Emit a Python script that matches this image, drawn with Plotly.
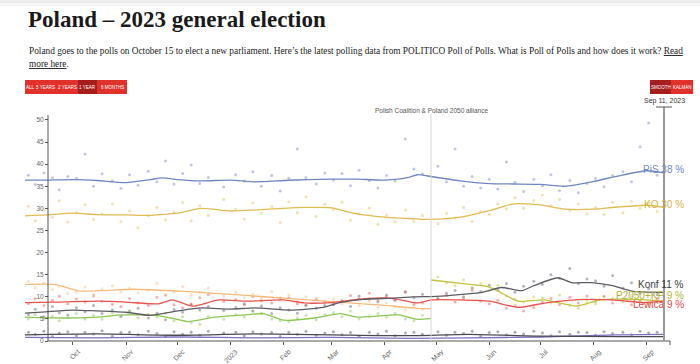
import plotly.graph_objects as go

# ---------------- data ----------------
poll_dates = [
    "2022-09-05", "2022-09-09", "2022-09-14", "2022-09-19", "2022-09-23", "2022-09-28",
    "2022-10-03", "2022-10-08", "2022-10-13", "2022-10-18", "2022-10-24", "2022-10-29",
    "2022-11-03", "2022-11-08", "2022-11-14", "2022-11-19", "2022-11-24", "2022-11-29",
    "2022-12-04", "2022-12-09", "2022-12-14", "2022-12-19", "2022-12-28",
    "2023-01-04", "2023-01-09", "2023-01-14", "2023-01-19", "2023-01-25", "2023-01-30",
    "2023-02-04", "2023-02-09", "2023-02-14", "2023-02-20", "2023-02-25",
    "2023-03-02", "2023-03-07", "2023-03-12", "2023-03-17", "2023-03-23", "2023-03-28",
    "2023-04-02", "2023-04-07", "2023-04-13", "2023-04-18", "2023-04-23",
    "2023-05-02", "2023-05-07", "2023-05-12", "2023-05-17", "2023-05-22", "2023-05-27",
    "2023-06-01", "2023-06-06", "2023-06-11", "2023-06-16", "2023-06-21", "2023-06-27",
    "2023-07-02", "2023-07-07", "2023-07-12", "2023-07-18", "2023-07-23", "2023-07-28",
    "2023-08-02", "2023-08-07", "2023-08-12", "2023-08-18", "2023-08-23", "2023-08-28",
    "2023-09-02", "2023-09-07",
]
pis_polls = [
    37.5, 35.4, 38.0, 36.9, 34.2, 37.2, 36.8, 42.3, 35.0, 37.8, 36.2, 34.5, 37.6, 35.2, 38.4, 36.0,
    40.7, 35.5, 37.9, 39.8, 35.6, 37.0, 34.8,
    37.6, 36.2, 38.3, 35.0, 37.4, 33.9,
    36.8, 43.4, 37.0, 35.5, 38.0,
    36.4, 37.9, 35.1, 38.6, 36.3, 34.6,
    37.4, 36.2, 45.7, 38.9, 37.8,
    39.5, 36.0, 43.4, 35.0, 37.2, 34.6,
    36.6, 34.4, 40.5, 35.9, 33.8, 36.5,
    35.1, 37.6, 34.0, 36.3, 33.5, 35.6,
    36.8, 34.9, 37.4, 38.3, 36.0, 43.9,
    49.3, 37.5,
]
ko_polls = [
    30.5, 27.2, 29.6, 28.0, 31.7, 26.9, 29.0, 30.8, 27.5, 28.8, 31.0, 27.0, 29.4, 25.6, 28.3, 30.2,
    27.4, 29.1, 31.3, 27.2, 30.6, 28.4, 32.0,
    29.8, 27.6, 31.2, 28.9, 30.4, 26.8,
    31.5, 29.0, 32.6, 28.2, 30.9,
    29.7, 31.4, 27.3, 28.8, 30.0, 26.4,
    28.5, 26.9, 29.6, 27.0, 28.4,
    26.5, 28.9, 27.8, 30.2, 27.0, 29.3,
    28.6, 31.0, 29.9, 32.4, 30.0, 31.8,
    33.0, 30.6, 32.0, 29.5, 31.0, 28.7,
    30.2, 28.6, 31.4, 29.0, 31.6, 30.0,
    31.2, 29.3,
]
konf_polls = [
    6.0, 7.2, 5.5, 7.8, 6.4, 5.9, 7.5, 6.6, 8.0, 6.2, 7.0, 5.6, 6.8, 7.4, 5.2, 6.3,
    4.8, 7.1, 6.5, 8.2, 7.0, 7.8, 6.9,
    7.6, 8.4, 6.8, 7.9, 6.2, 7.5,
    7.0, 6.3, 8.1, 7.4, 8.0,
    8.2, 9.1, 7.8, 10.2, 9.5, 8.8,
    10.4, 9.2, 11.0, 9.8, 10.6,
    9.6, 10.8, 11.4, 10.0, 12.0, 11.2,
    12.6, 11.5, 13.0, 11.0, 12.4, 13.5,
    12.8, 15.0, 14.2, 16.4, 13.0, 14.0,
    13.6, 12.4, 14.8, 12.0, 13.2, 10.8,
    11.8, 10.5,
]
lewica_polls = [
    8.5, 9.6, 8.0, 9.2, 10.1, 8.4, 9.5, 8.8, 10.2, 9.0, 8.3, 7.8, 9.6, 8.6, 8.0, 9.9,
    10.4, 8.2, 7.5, 8.4, 9.8, 10.5, 9.0,
    9.4, 8.2, 10.0, 9.1, 8.6, 9.7,
    9.8, 8.4, 8.0, 9.4, 8.9,
    8.3, 9.0, 10.3, 9.6, 10.8, 9.2,
    10.0, 9.4, 11.2, 8.2, 8.6,
    9.5, 10.3, 8.8, 9.6, 11.5, 9.0,
    8.4, 9.2, 7.4, 8.0, 6.8, 7.6,
    8.8, 9.6, 8.2, 9.9, 8.6, 10.2,
    9.0, 10.1, 8.6, 9.5, 8.2, 9.3,
    8.4, 9.6,
]
p2050_polls = [
    13.5, 12.0, 13.2, 11.6, 12.4, 10.8, 11.0, 12.2, 10.6, 11.8, 12.5, 11.0, 12.0, 10.9, 11.5, 13.0,
    10.4, 11.2, 12.3, 10.5, 11.0, 12.0, 10.2,
    11.0, 9.8, 10.6, 9.6, 11.2, 9.4,
    10.4, 9.0, 10.0, 9.6, 8.8,
    9.5, 8.4, 9.2, 8.0, 9.0, 7.6,
    8.6, 7.8, 7.0, 8.2, 7.2,
] + [None] * 26
psl_polls = [
    5.0, 6.0, 4.8, 5.6, 4.6, 5.3, 6.2, 5.0, 5.8, 4.9, 6.4, 5.5, 6.6, 5.2, 6.0, 5.4,
    6.3, 4.6, 5.5, 4.2, 3.8, 5.6, 4.9,
    6.0, 5.4, 6.8, 6.2, 5.0, 4.6,
    4.4, 5.2, 5.8, 4.8, 6.0,
    6.4, 5.5, 6.8, 5.0, 5.6, 6.2,
    5.4, 6.3, 5.0, 4.6, 5.8,
] + [None] * 26
td_polls = [None] * 45 + [
    14.5, 13.2, 12.5, 13.8, 12.0, 13.0,
    11.4, 12.6, 10.2, 9.5, 8.8, 10.0,
    9.8, 8.6, 10.4, 8.0, 7.4, 9.0,
    8.4, 10.0, 9.6, 8.8, 10.2, 9.0,
    8.6, 9.4,
]
small_polls = [
    2.0, 1.5, 2.2, 1.0, 1.8, 2.1, 1.2, 2.0, 1.6, 2.3, 1.1, 1.9, 2.0, 1.4, 2.2, 1.7,
    1.0, 2.1, 1.5, 2.0, 1.3, 2.2, 1.8,
    2.0, 1.2, 2.1, 1.6, 1.9, 1.0,
    2.0, 1.5, 2.2, 1.3, 1.8,
    2.1, 1.4, 1.9, 1.1, 2.0, 1.6,
    2.2, 1.2, 1.8, 2.0, 1.5,
    2.1, 1.3, 2.0, 1.7, 2.2, 1.0,
    1.9, 2.1, 1.4, 2.0, 1.6, 2.2,
    1.8, 1.2, 2.1, 1.5, 2.0, 1.9,
    1.3, 2.1, 1.7, 2.0, 1.4, 2.2,
    1.8, 2.0,
]

main_dates = [
    "2022-09-03", "2022-09-15", "2022-10-01", "2022-10-15", "2022-11-01", "2022-11-15",
    "2022-11-22", "2022-12-01", "2022-12-15", "2023-01-01", "2023-01-15", "2023-02-01",
    "2023-02-15", "2023-03-01", "2023-03-15", "2023-04-01", "2023-04-15", "2023-04-20",
    "2023-04-28", "2023-05-15", "2023-06-01", "2023-06-15", "2023-07-01", "2023-07-15",
    "2023-08-01", "2023-08-15", "2023-09-01", "2023-09-11",
]
pis_trend = [36.4, 36.4, 36.5, 36.3, 35.8, 36.5, 36.9, 36.5, 36.2, 36.4, 36.0, 36.3, 36.5, 36.6,
             36.6, 36.4, 37.0, 37.6, 37.2, 36.2, 35.6, 35.5, 35.4, 35.0, 36.1, 37.3, 38.5, 38.0]
ko_trend = [28.3, 28.5, 28.9, 28.6, 28.5, 28.4, 28.6, 28.9, 30.0, 29.4, 29.6, 30.0, 30.2, 30.1,
            28.8, 28.0, 27.7, 27.6, 27.5, 28.0, 29.5, 31.0, 30.8, 29.8, 29.8, 30.3, 30.7, 30.2]

konf_dates = ["2022-09-03", "2022-09-15", "2022-10-01", "2022-10-15", "2022-11-01", "2022-11-15",
              "2022-12-01", "2022-12-15", "2023-01-01", "2023-01-15", "2023-02-05", "2023-02-24",
              "2023-03-05", "2023-03-19", "2023-04-05", "2023-04-18", "2023-05-01", "2023-05-18",
              "2023-05-28", "2023-06-08", "2023-06-20", "2023-06-27", "2023-07-11", "2023-07-19",
              "2023-07-31", "2023-08-12", "2023-08-23", "2023-09-11"]
konf_trend = [6.3, 6.6, 7.0, 6.8, 6.5, 5.8, 6.8, 7.5, 7.2, 7.5, 7.0, 7.6, 8.6, 9.4, 9.7, 10.0,
              10.1, 10.6, 11.0, 12.1, 11.4, 12.5, 14.3, 13.2, 13.2, 12.5, 11.3, 11.0]

lewica_dates = ["2022-09-03", "2022-09-20", "2022-10-15", "2022-11-01", "2022-11-20", "2022-11-28",
                "2022-12-10", "2022-12-25", "2023-01-10", "2023-02-01", "2023-02-13", "2023-03-01",
                "2023-03-19", "2023-04-04", "2023-04-20", "2023-04-28", "2023-05-15", "2023-06-01",
                "2023-06-18", "2023-07-05", "2023-07-29", "2023-08-15", "2023-08-30", "2023-09-11"]
lewica_trend = [8.7, 8.8, 9.0, 8.8, 8.4, 9.3, 7.9, 9.3, 9.0, 9.3, 8.6, 8.7, 9.5, 9.7, 8.6, 9.3,
                9.3, 9.0, 7.6, 8.7, 9.4, 9.2, 8.7, 9.0]

p2050_dates = ["2022-09-03", "2022-09-20", "2022-10-05", "2022-11-05", "2022-12-05", "2023-01-10",
               "2023-02-01", "2023-03-01", "2023-03-30", "2023-04-20", "2023-04-28"]
p2050_trend = [12.8, 12.8, 11.3, 11.7, 11.2, 10.3, 9.7, 8.9, 8.1, 7.4, 7.3]

psl_dates = ["2022-09-03", "2022-09-26", "2022-10-15", "2022-10-30", "2022-11-19", "2022-11-27",
             "2022-12-07", "2022-12-23", "2023-01-10", "2023-01-20", "2023-02-01", "2023-02-19",
             "2023-03-06", "2023-03-16", "2023-04-09", "2023-04-20", "2023-04-28"]
psl_trend = [5.4, 5.2, 5.4, 5.9, 5.8, 5.2, 4.4, 5.4, 5.9, 6.2, 4.7, 5.2, 6.2, 5.4, 5.9, 4.9, 5.1]

td_dates = ["2023-04-28", "2023-05-18", "2023-05-30", "2023-06-05", "2023-06-18", "2023-07-03",
            "2023-07-22", "2023-08-05", "2023-08-25", "2023-09-11"]
td_trend = [13.8, 12.9, 12.4, 11.5, 9.0, 9.3, 7.9, 9.3, 9.4, 9.0]

small_dates = ["2022-09-03", "2022-10-15", "2022-12-01", "2023-01-15", "2023-03-01", "2023-04-15",
               "2023-05-20", "2023-07-01", "2023-08-15", "2023-09-11"]
small1_trend = [1.4, 1.6, 1.3, 1.6, 1.4, 1.2, 1.5, 1.1, 1.0, 1.0]
small2_trend = [0.8, 0.7, 0.9, 0.7, 0.8, 0.6, 0.7, 0.9, 1.4, 1.5]

month_ticks = ["2022-10-01", "2022-11-01", "2022-12-01", "2023-01-01", "2023-02-01", "2023-03-01",
               "2023-04-01", "2023-05-01", "2023-06-01", "2023-07-01", "2023-08-01", "2023-09-01"]
month_labels = ["Oct", "Nov", "Dec", "2023", "Feb", "Mar", "Apr", "May", "Jun", "Jul", "Aug", "Sep"]
y_ticks = [0, 5, 10, 15, 20, 25, 30, 35, 40, 45, 50]

latest = {"PiS": 38, "KO": 30, "Konf": 11, "P2050+KP": 9, "Lewica": 9}
alliance_date = "2023-04-28"
current_date = "2023-09-11"

# ---------------- layout helpers ----------------
W, H = 700, 364
ML, MR, MT, MB = 25, 0, 100, 23
PW, PH = W - ML - MR, H - MT - MB


def pxx(x):
    return (x - ML) / PW


def pyy(y):
    return (H - MB - y) / PH


PIS_C = "#6f86c1"
KO_C = "#e0bb52"
KONF_C = "#5c5c64"
LEW_C = "#e8534d"
P2050_C = "#f6b97c"
PSL_C = "#8cc653"
TD_C = "#c3c23a"
S1_C = "#4a4a52"
S2_C = "#7a70c4"

fig = go.Figure()

dot_series = [
    (pis_polls, PIS_C), (ko_polls, KO_C), (konf_polls, KONF_C), (lewica_polls, LEW_C),
    (p2050_polls, P2050_C), (psl_polls, PSL_C), (td_polls, TD_C), (small_polls, S1_C),
]
for vals, col in dot_series:
    fig.add_trace(go.Scatter(x=poll_dates, y=vals, mode="markers",
                             marker=dict(size=3, color=col, opacity=0.45),
                             cliponaxis=False, hoverinfo="skip", showlegend=False))

line_series = [
    (small_dates, small2_trend, S2_C), (small_dates, small1_trend, S1_C),
    (psl_dates, psl_trend, PSL_C), (p2050_dates, p2050_trend, P2050_C),
    (td_dates, td_trend, TD_C), (lewica_dates, lewica_trend, LEW_C),
    (konf_dates, konf_trend, KONF_C), (main_dates, ko_trend, KO_C), (main_dates, pis_trend, PIS_C),
]
for d, v, col in line_series:
    fig.add_trace(go.Scatter(x=d, y=v, mode="lines", line=dict(color=col, width=1.3, shape="spline", smoothing=0.6),
                             cliponaxis=False, hoverinfo="skip", showlegend=False))

shapes = []
# top shadow
shapes.append(dict(type="rect", xref="paper", yref="paper", x0=pxx(0), x1=pxx(W), y0=pyy(0), y1=pyy(3),
                   fillcolor="#ececec", line=dict(width=0), layer="below"))
shapes.append(dict(type="rect", xref="paper", yref="paper", x0=pxx(0), x1=pxx(W), y0=pyy(3), y1=pyy(6),
                   fillcolor="#f6f6f6", line=dict(width=0), layer="below"))
# y axis line
shapes.append(dict(type="line", xref="paper", yref="paper", x0=pxx(48), x1=pxx(48), y0=0, y1=pyy(115),
                   line=dict(color="#555", width=1)))
# x axis line
shapes.append(dict(type="line", xref="paper", yref="paper", x0=pxx(48), x1=pxx(670), y0=0, y1=0,
                   line=dict(color="#555", width=1)))
shapes.append(dict(type="line", xref="paper", yref="paper", x0=pxx(670), x1=pxx(670), y0=0, y1=pyy(345),
                   line=dict(color="#555", width=1)))
# alliance line
shapes.append(dict(type="line", xref="x", yref="paper", x0=alliance_date, x1=alliance_date, y0=0, y1=pyy(114),
                   line=dict(color="#d6d6d6", width=1)))
# current date line
shapes.append(dict(type="line", xref="x", yref="paper", x0=current_date, x1=current_date, y0=0, y1=pyy(107),
                   line=dict(color="#9a9a9a", width=2)))
shapes.append(dict(type="line", xref="paper", yref="paper", x0=pxx(656), x1=pxx(672), y0=pyy(107), y1=pyy(107),
                   line=dict(color="#555", width=1)))

# buttons
left_btns = [("ALL", 25, 35), ("5 YEARS", 35, 56), ("2 YEARS", 56, 78), ("1 YEAR", 78, 97), ("6 MONTHS", 97, 127)]
right_btns = [("SMOOTH", 650, 671), ("KALMAN", 671, 693)]
for lbl, x0, x1 in left_btns + right_btns:
    sel = lbl in ("1 YEAR", "SMOOTH")
    shapes.append(dict(type="rect", xref="paper", yref="paper", x0=pxx(x0), x1=pxx(x1), y0=pyy(94), y1=pyy(80),
                       fillcolor="#a61d1d" if sel else "#e0312b", line=dict(width=0)))

annotations = []
for lbl, x0, x1 in left_btns + right_btns:
    annotations.append(dict(xref="paper", yref="paper", x=pxx((x0 + x1) / 2), y=pyy(87), text=lbl,
                            showarrow=False, xanchor="center", yanchor="middle",
                            font=dict(family="Liberation Sans Narrow, Liberation Sans", size=4.5, color="#ffffff")))

annotations.append(dict(xref="paper", yref="paper", x=pxx(26), y=pyy(19), xanchor="left", yanchor="middle",
                        text="<b>Poland – 2023 general election</b>", showarrow=False,
                        font=dict(family="Liberation Serif", size=23, color="#1a1a1a")))
annotations.append(dict(xref="paper", yref="paper", x=pxx(27), y=pyy(51), xanchor="left", yanchor="middle",
                        text="Poland goes to the polls on October 15 to elect a new parliament. Here’s the latest polling data from POLITICO Poll of Polls. What is Poll of Polls and how does it work? <u>Read</u>",
                        showarrow=False, font=dict(family="Liberation Serif", size=9.3, color="#222")))
annotations.append(dict(xref="paper", yref="paper", x=pxx(27), y=pyy(64), xanchor="left", yanchor="middle",
                        text="<u>more here</u>.", showarrow=False,
                        font=dict(family="Liberation Serif", size=9.3, color="#222")))
annotations.append(dict(xref="x", yref="paper", x=alliance_date, y=pyy(111), xanchor="center", yanchor="middle",
                        text="Polish Coalition & Poland 2050 alliance", showarrow=False,
                        font=dict(family="Liberation Sans", size=6.5, color="#555")))
annotations.append(dict(xref="x", yref="paper", x=current_date, y=pyy(101), xanchor="center", yanchor="middle",
                        text="Sep 11, 2023", showarrow=False,
                        font=dict(family="Liberation Sans", size=7, color="#333")))

end_labels = [("PiS", "#7088c2", 0.7), ("KO", "#d6b046", 0.8), ("Konf", "#3a3a3a", 1.7),
              ("P2050+KP", "#b4b236", 1.4), ("Lewica", "#e04a48", -0.7)]
for name, col, off in end_labels:
    annotations.append(dict(xref="paper", yref="y", x=pxx(686), y=latest[name] + off, xanchor="right",
                            yanchor="middle", text=f"{name} {latest[name]} %", showarrow=False,
                            font=dict(family="Liberation Sans", size=10, color=col)))

fig.update_layout(
    width=W, height=H, margin=dict(l=ML, r=MR, t=MT, b=MB),
    paper_bgcolor="white", plot_bgcolor="white",
    shapes=shapes, annotations=annotations, showlegend=False,
    xaxis=dict(type="date", range=["2022-09-03", "2023-10-02"], showgrid=False, zeroline=False,
               showline=False, ticks="outside", ticklen=3, tickcolor="#555",
               tickvals=month_ticks, ticktext=month_labels, tickangle=-45, ticklabelshift=5,
               tickfont=dict(family="Liberation Sans", size=7, color="#666")),
    yaxis=dict(range=[0, 54.5], showgrid=False, zeroline=False, showline=False,
               anchor="free", position=pxx(48), ticks="outside", ticklen=3, tickcolor="#555",
               tickvals=y_ticks, ticksuffix=" %",
               tickfont=dict(family="Liberation Sans", size=6.5, color="#666")),
)

fig.write_html("out.html", config={"displayModeBar": False},
               post_script="document.body.style.margin='0';")
